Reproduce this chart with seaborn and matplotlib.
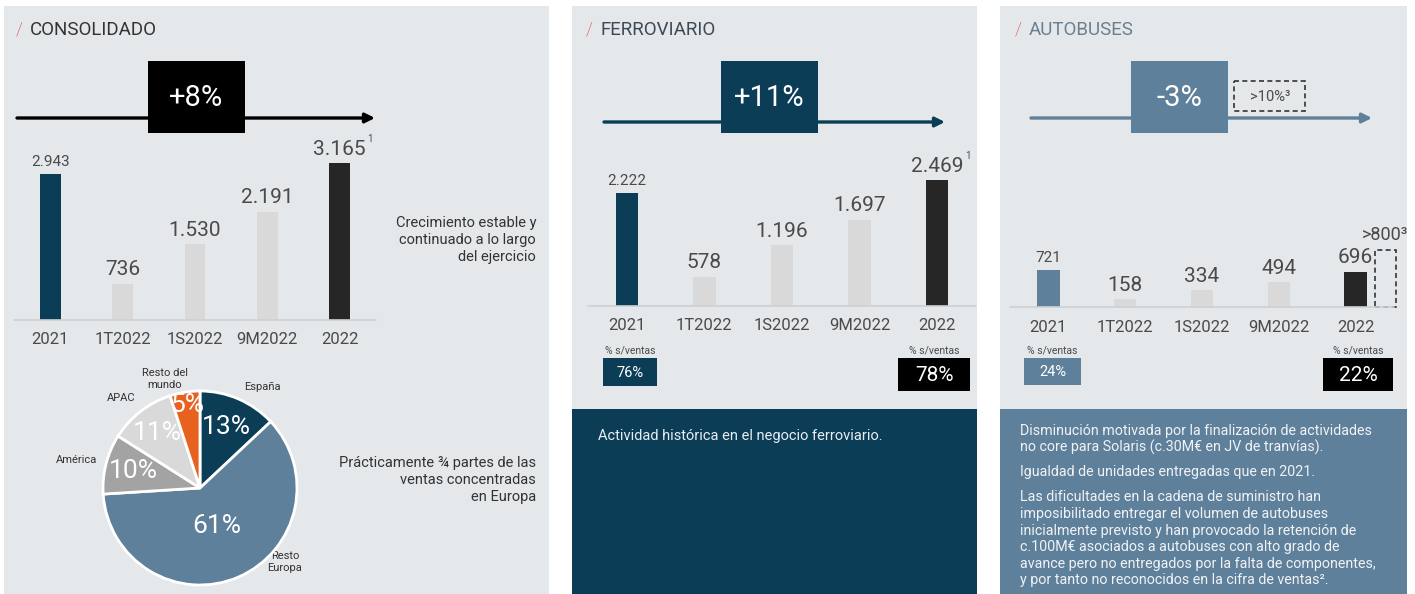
import matplotlib
matplotlib.use("Agg")
import matplotlib.pyplot as plt
import seaborn as sns
import pandas as pd
import numpy as np
from matplotlib.patches import Rectangle

# data
periods = ['2021', '1T2022', '1S2022', '9M2022', '2022']
consolidado = [2943, 736, 1530, 2191, 3165]
ferroviario = [2222, 578, 1196, 1697, 2469]
autobuses = [721, 158, 334, 494, 696]
bus_pending = 1120          # dashed outline next to the 2022 bus bar (drawn height)

regions = ['España', 'Resto\nEuropa', 'América', 'APAC', 'Resto del\nmundo']
region_share = [13, 61, 10, 11, 5]

growth = {'CONSOLIDADO': '+8%', 'FERROVIARIO': '+11%', 'AUTOBUSES': '-3%'}
ventas_share = {'FERROVIARIO': ('76%', '78%'), 'AUTOBUSES': ('24%', '22%')}

NAVY = '#0b3d57'
STEEL = '#5f809b'
LIGHT = '#d9d9d9'
DARK = '#262626'
PANEL = '#e4e8ea'
TXT = '#4a4a4a'

sns.set_theme(style='white')
plt.rcParams['font.family'] = ['Roboto', 'DejaVu Sans']

W, H = 1415, 594
fig = plt.figure(figsize=(W / 100, H / 100), dpi=100)
fig.patch.set_facecolor('white')

bg = fig.add_axes([0, 0, 1, 1])
bg.set_xlim(0, W)
bg.set_ylim(H, 0)
bg.axis('off')


def px_axes(left, top, width, height):
    return fig.add_axes([left / W, 1 - (top + height) / H, width / W, height / H])


def box(x0, y0, x1, y1, color, **kw):
    bg.add_patch(Rectangle((x0, y0), x1 - x0, y1 - y0, facecolor=color, edgecolor='none', **kw))


def fmt(v):
    return f'{v:,}'.replace(',', '.')


# panels
box(4, 6, 549, 594, PANEL)
box(572, 6, 977, 594, PANEL)
box(1000, 6, 1407, 594, PANEL)
box(572, 409, 977, 594, NAVY)
box(1000, 409, 1407, 594, STEEL)

# titles
for x, name, col in [(16, 'CONSOLIDADO', '#333333'), (586, 'FERROVIARIO', '#3d4a55'), (1015, 'AUTOBUSES', '#6d7f8e')]:
    bg.text(x, 30, '/', color='#d9363e', fontsize=13, va='center', ha='left', fontweight='light')
    bg.text(x + 14, 30, name, color=col, fontsize=13.5, va='center', ha='left')

# growth arrows + boxes
for (x0, x1, y, bx0, col, key) in [(17, 375, 118, 148, '#000000', 'CONSOLIDADO'),
                                  (604, 945, 122, 721, NAVY, 'FERROVIARIO'),
                                  (1031, 1372, 118, 1131, STEEL, 'AUTOBUSES')]:
    bg.annotate('', xy=(x1, y), xytext=(x0, y),
                arrowprops=dict(arrowstyle='-|>', color=col, lw=2.4, mutation_scale=14, shrinkA=0, shrinkB=0))
    box(bx0, 61, bx0 + 97, 133, col, zorder=3)
    bg.text(bx0 + 48.5, 98, growth[key], color='white', fontsize=21, ha='center', va='center', zorder=4)

# dashed >10% box
bg.add_patch(Rectangle((1234, 81), 71, 30, facecolor='none', edgecolor='#333333', lw=1.2, ls=(0, (3, 2))))
bg.text(1270, 97, '>10%³', color=TXT, fontsize=10.5, ha='center', va='center')


def draw_bars(left, top, width, height, ymax, values, first_color):
    ax = px_axes(left, top, width, height)
    ax.patch.set_alpha(0)
    df = pd.DataFrame({'periodo': periods, 'ventas': values})
    pal = [first_color, LIGHT, LIGHT, LIGHT, DARK]
    sns.barplot(data=df, x='periodo', y='ventas', hue='periodo', palette=pal,
                width=0.29, saturation=1, legend=False, linewidth=0, ax=ax)
    ax.set_xlim(-0.5, 4.5)
    ax.set_ylim(0, ymax)
    ax.set_yticks([])
    ax.set_xlabel('')
    ax.set_ylabel('')
    sns.despine(ax=ax, left=True, bottom=True)
    ax.axhline(0, color='#cdd1d4', lw=1.2, clip_on=False)
    ax.tick_params(axis='x', length=0, pad=9, labelsize=12, labelcolor=TXT)
    for i, v in enumerate(values):
        ax.annotate(fmt(v), (i, v), xytext=(0, 6), textcoords='offset points',
                    ha='center', va='baseline', color=TXT,
                    fontsize=11 if i == 0 else 15, annotation_clip=False)
    return ax


ax1 = draw_bars(14, 140, 362, 180, 180 / 0.0495, consolidado, NAVY)
ax1.annotate('1', (4, consolidado[4]), xytext=(20, 15), textcoords='offset points',
             fontsize=7, color=TXT, ha='left', va='baseline', annotation_clip=False)

ax2 = draw_bars(588, 126, 388, 180, 180 / 0.0509, ferroviario, NAVY)
ax2.annotate('1', (4, ferroviario[4]), xytext=(20, 15), textcoords='offset points',
             fontsize=7, color=TXT, ha='left', va='baseline', annotation_clip=False)

ax3 = draw_bars(1010, 127, 384, 180, 180 / 0.0509, autobuses, STEEL)
ax3.bar([4.385], [bus_pending], width=0.27, facecolor='none', edgecolor='#333333',
        lw=1.2, ls=(0, (3, 2)), clip_on=False)
ax3.annotate('>800³', (4.385, bus_pending), xytext=(0, 7), textcoords='offset points',
             fontsize=13, color=TXT, ha='center', va='baseline', annotation_clip=False)

# % s/ventas boxes
for cx0, cx1, y1, col, label, fs in [(603, 657, 386, NAVY, ventas_share['FERROVIARIO'][0], 10.5),
                                     (898, 970, 391, '#000000', ventas_share['FERROVIARIO'][1], 15),
                                     (1024, 1081, 385, STEEL, ventas_share['AUTOBUSES'][0], 10.5),
                                     (1323, 1393, 391, '#000000', ventas_share['AUTOBUSES'][1], 15)]:
    bg.text((cx0 + cx1) / 2, 350, '% s/ventas', fontsize=7.5, color=TXT, ha='center', va='center')
    box(cx0, 358, cx1, y1, col)
    bg.text((cx0 + cx1) / 2, (358 + y1) / 2 + 1, label, fontsize=fs, color='white', ha='center', va='center')

# side notes
bg.text(536, 240, 'Crecimiento estable y\ncontinuado a lo largo\ndel ejercicio',
        ha='right', va='center', fontsize=10.5, color='#333333', linespacing=1.25)
bg.text(536, 480, 'Prácticamente ¾ partes de las\nventas concentradas\nen Europa',
        ha='right', va='center', fontsize=10.5, color='#333333', linespacing=1.25)

bg.text(598, 436, 'Actividad histórica en el negocio ferroviario.', fontsize=10.5,
        color='#e8eef2', ha='left', va='center')

bus_lines = [
    (431, 'Disminución motivada por la finalización de actividades'),
    (447, 'no core para Solaris (c.30M€ en JV de tranvías).'),
    (472, 'Igualdad de unidades entregadas que en 2021.'),
    (497, 'Las dificultades en la cadena de suministro han'),
    (514, 'imposibilitado entregar el volumen de autobuses'),
    (531, 'inicialmente previsto y han provocado la retención de'),
    (547, 'c.100M€ asociados a autobuses con alto grado de'),
    (564, 'avance pero no entregados por la falta de componentes,'),
    (580, 'y por tanto no reconocidos en la cifra de ventas².'),
]
for y, line in bus_lines:
    bg.text(1020, y, line, fontsize=10.3, color='#f0f3f5', ha='left', va='center')

# pie
axp = px_axes(103, 391, 194, 194)
pie_colors = [NAVY, STEEL, '#a3a3a3', LIGHT, '#e8621f']
wedges, _, autotexts = axp.pie(region_share, colors=pie_colors, startangle=90, counterclock=False,
                               autopct=lambda p: f'{p:.0f}%', pctdistance=0.7,
                               wedgeprops=dict(edgecolor='white', linewidth=2),
                               textprops=dict(color='white', fontsize=19))
axp.set_xlim(-1, 1)
axp.set_ylim(-1, 1)
axp.set_aspect('equal')
pct_dist = [0.69, 0.43, 0.71, 0.72, 0.87]
for w, t, d in zip(wedges, autotexts, pct_dist):
    ang = np.deg2rad((w.theta1 + w.theta2) / 2)
    t.set_position((d * np.cos(ang), d * np.sin(ang)))

for (x, y), txt in zip([(262, 387), (285, 562), (77, 460), (121, 398), (165, 379)], regions):
    bg.text(x, y, txt, fontsize=8, color='#333333', ha='center', va='center', linespacing=1.2)

fig.savefig('out.png', dpi=100, facecolor='white')
